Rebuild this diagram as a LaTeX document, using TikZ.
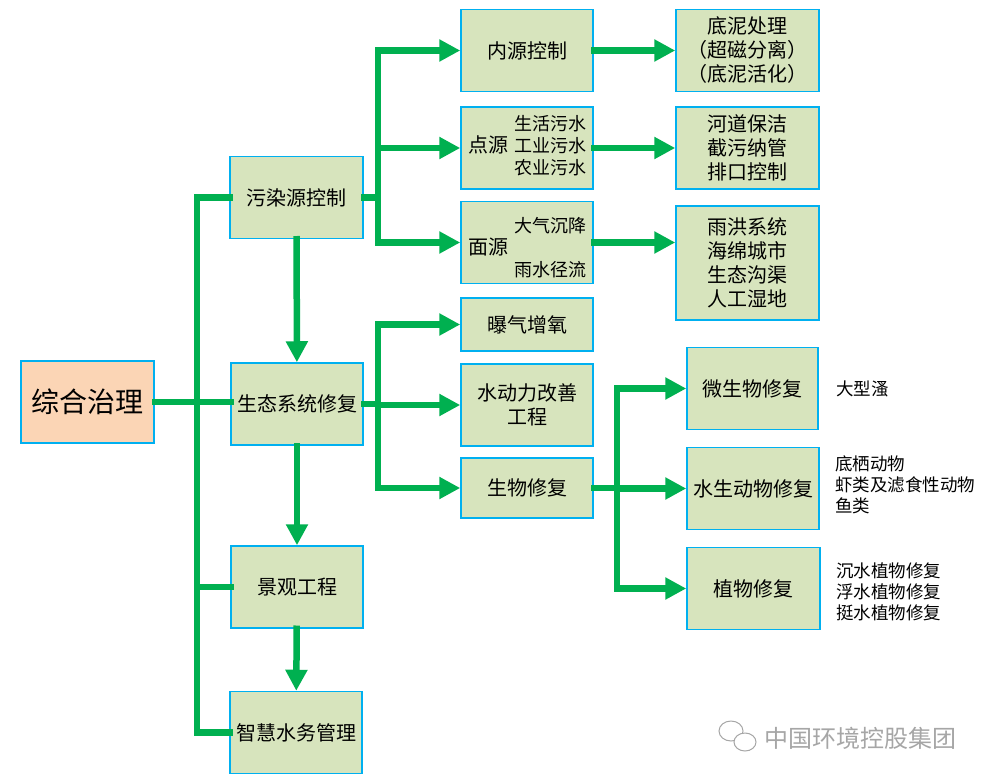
\documentclass[tikz,border=0pt]{standalone}
\usepackage{fontspec}
\setmainfont{Noto Sans CJK SC}
\usetikzlibrary{arrows.meta}
\definecolor{boxfill}{HTML}{D7E4BD}
\definecolor{boxline}{HTML}{00B0F0}
\definecolor{rootfill}{HTML}{FBD5B5}
\definecolor{linkgreen}{HTML}{00B050}
\definecolor{logogray}{HTML}{A6A6A6}

\begin{document}
\begin{tikzpicture}[x=1pt,y=-1pt,
	box/.style={draw=boxline,fill=boxfill,line width=1.5pt,minimum width=132pt,minimum height=82pt,inner sep=0pt,align=center,font=\fontsize{20}{24}\selectfont},
	note/.style={anchor=west,align=left,inner sep=0pt,font=\fontsize{17.5}{21}\selectfont},
	conn/.style={draw=linkgreen,line width=6.5pt,line cap=rect},
	arr/.style={conn,-{Triangle[length=21pt,width=21pt]}}]
	\useasboundingbox[fill=white] (0,0) rectangle (987,781);

	\node[box,fill=rootfill,minimum width=133pt,font=\fontsize{28}{32}\selectfont] (root) at (87.5,402) {综合治理};
	\node[box,minimum width=133pt] (pol) at (296.5,197.5) {污染源控制};
	\node[box] (eco) at (297,404) {生态系统修复};
	\node[box] (land) at (297,587) {景观工程};
	\node[box] (smart) at (296,732.5) {智慧水务管理};

	\node[box] (nei) at (527,50.5) {内源控制};
	\node[box] (dian) at (527,148) {\begin{tabular}{@{}l@{\hspace{6pt}}r@{}}
		& {\fontsize{18}{21}\selectfont 生活污水}\\[-2pt]
		点源 & {\fontsize{18}{21}\selectfont 工业污水}\\[-2pt]
		& {\fontsize{18}{21}\selectfont 农业污水}
	\end{tabular}};
	\node[box] (mian) at (527,242.5) {\raisebox{-12pt}[0pt][0pt]{\begin{tabular}{@{}l@{\hspace{6pt}}r@{}}
		& {\fontsize{18}{21}\selectfont 大气沉降}\\[-2pt]
		面源 & \\[-2pt]
		& {\fontsize{18}{21}\selectfont 雨水径流}
	\end{tabular}}};
	\node[box,minimum height=53pt] (aer) at (527,324.5) {曝气增氧};
	\node[box] (hydro) at (527,405) {水动力改善\\工程};
	\node[box,minimum height=60pt] (bio) at (527,488) {生物修复};

	\node[box,minimum width=143pt] (sed) at (747.5,50.5) {底泥处理\\（超磁分离）\\（底泥活化）};
	\node[box,minimum width=143pt] (clean) at (747.5,148) {河道保洁\\截污纳管\\排口控制};
	\node[box,minimum width=143pt,minimum height=114pt] (storm) at (747.5,263) {雨洪系统\\海绵城市\\生态沟渠\\人工湿地};

	\node[box,minimum width=131pt] (micro) at (752.5,388.5) {微生物修复};
	\node[box] (fauna) at (753,488.5) {水生动物修复};
	\node[box,minimum width=133pt] (plant) at (753.5,588.5) {植物修复};

	\node[note] (algae) at (836,389) {大型溞};
	\node[note] (animals) at (835,485) {底栖动物\\虾类及滤食性动物\\鱼类};
	\node[note] (plants) at (836,592) {沉水植物修复\\浮水植物修复\\挺水植物修复};

	\coordinate (busL) at (197,0);
	\coordinate (busA) at (378,0);
	\coordinate (busC) at (617,0);

	% main trunk
	\draw[conn] (root.east) -- (root.east -| eco.west);
	\draw[conn] (pol.west) -| (busL |- smart.west) -- (smart.west);
	\draw[conn] (land.west -| busL) -- (land.west);
	\draw[arr] (pol) -- (eco);
	\draw[arr] (eco) -- (land);
	\draw[arr] (land) -- (smart);

	% pollution sources
	\draw[conn] (pol.east) -- (pol.east -| busA);
	\draw[arr] (mian.west -| busA) |- (nei.west);
	\draw[arr] (dian.west -| busA) -- (dian.west);
	\draw[arr] (mian.west -| busA) -- (mian.west);
	\draw[arr] (nei) -- (sed);
	\draw[arr] (dian) -- (clean);
	\draw[arr] (mian.east) -- (mian.east -| storm.west);

	% ecosystem
	\draw[conn] (eco.east) -- (eco.east -| busA);
	\draw[arr] (bio.west -| busA) |- (aer.west);
	\draw[arr] (hydro.west -| busA) -- (hydro.west);
	\draw[arr] (bio.west -| busA) -- (bio.west);

	% biological
	\draw[conn] (bio.east) -- (bio.east -| busC);
	\draw[arr] (plant.west -| busC) |- (micro.west);
	\draw[arr] (fauna.west -| busC) -- (fauna.west);
	\draw[arr] (plant.west -| busC) -- (plant.west);

	% logo
	\draw[logogray,line width=1pt] (731,731) ellipse (12 and 10);
	\draw[logogray,line width=1pt,fill=white] (745,742) ellipse (11 and 9);
	\node[text=logogray,font=\fontsize{24}{27}\selectfont,anchor=west,inner sep=0pt] (logo) at (764,738) {中国环境控股集团};
\end{tikzpicture}
\end{document}
